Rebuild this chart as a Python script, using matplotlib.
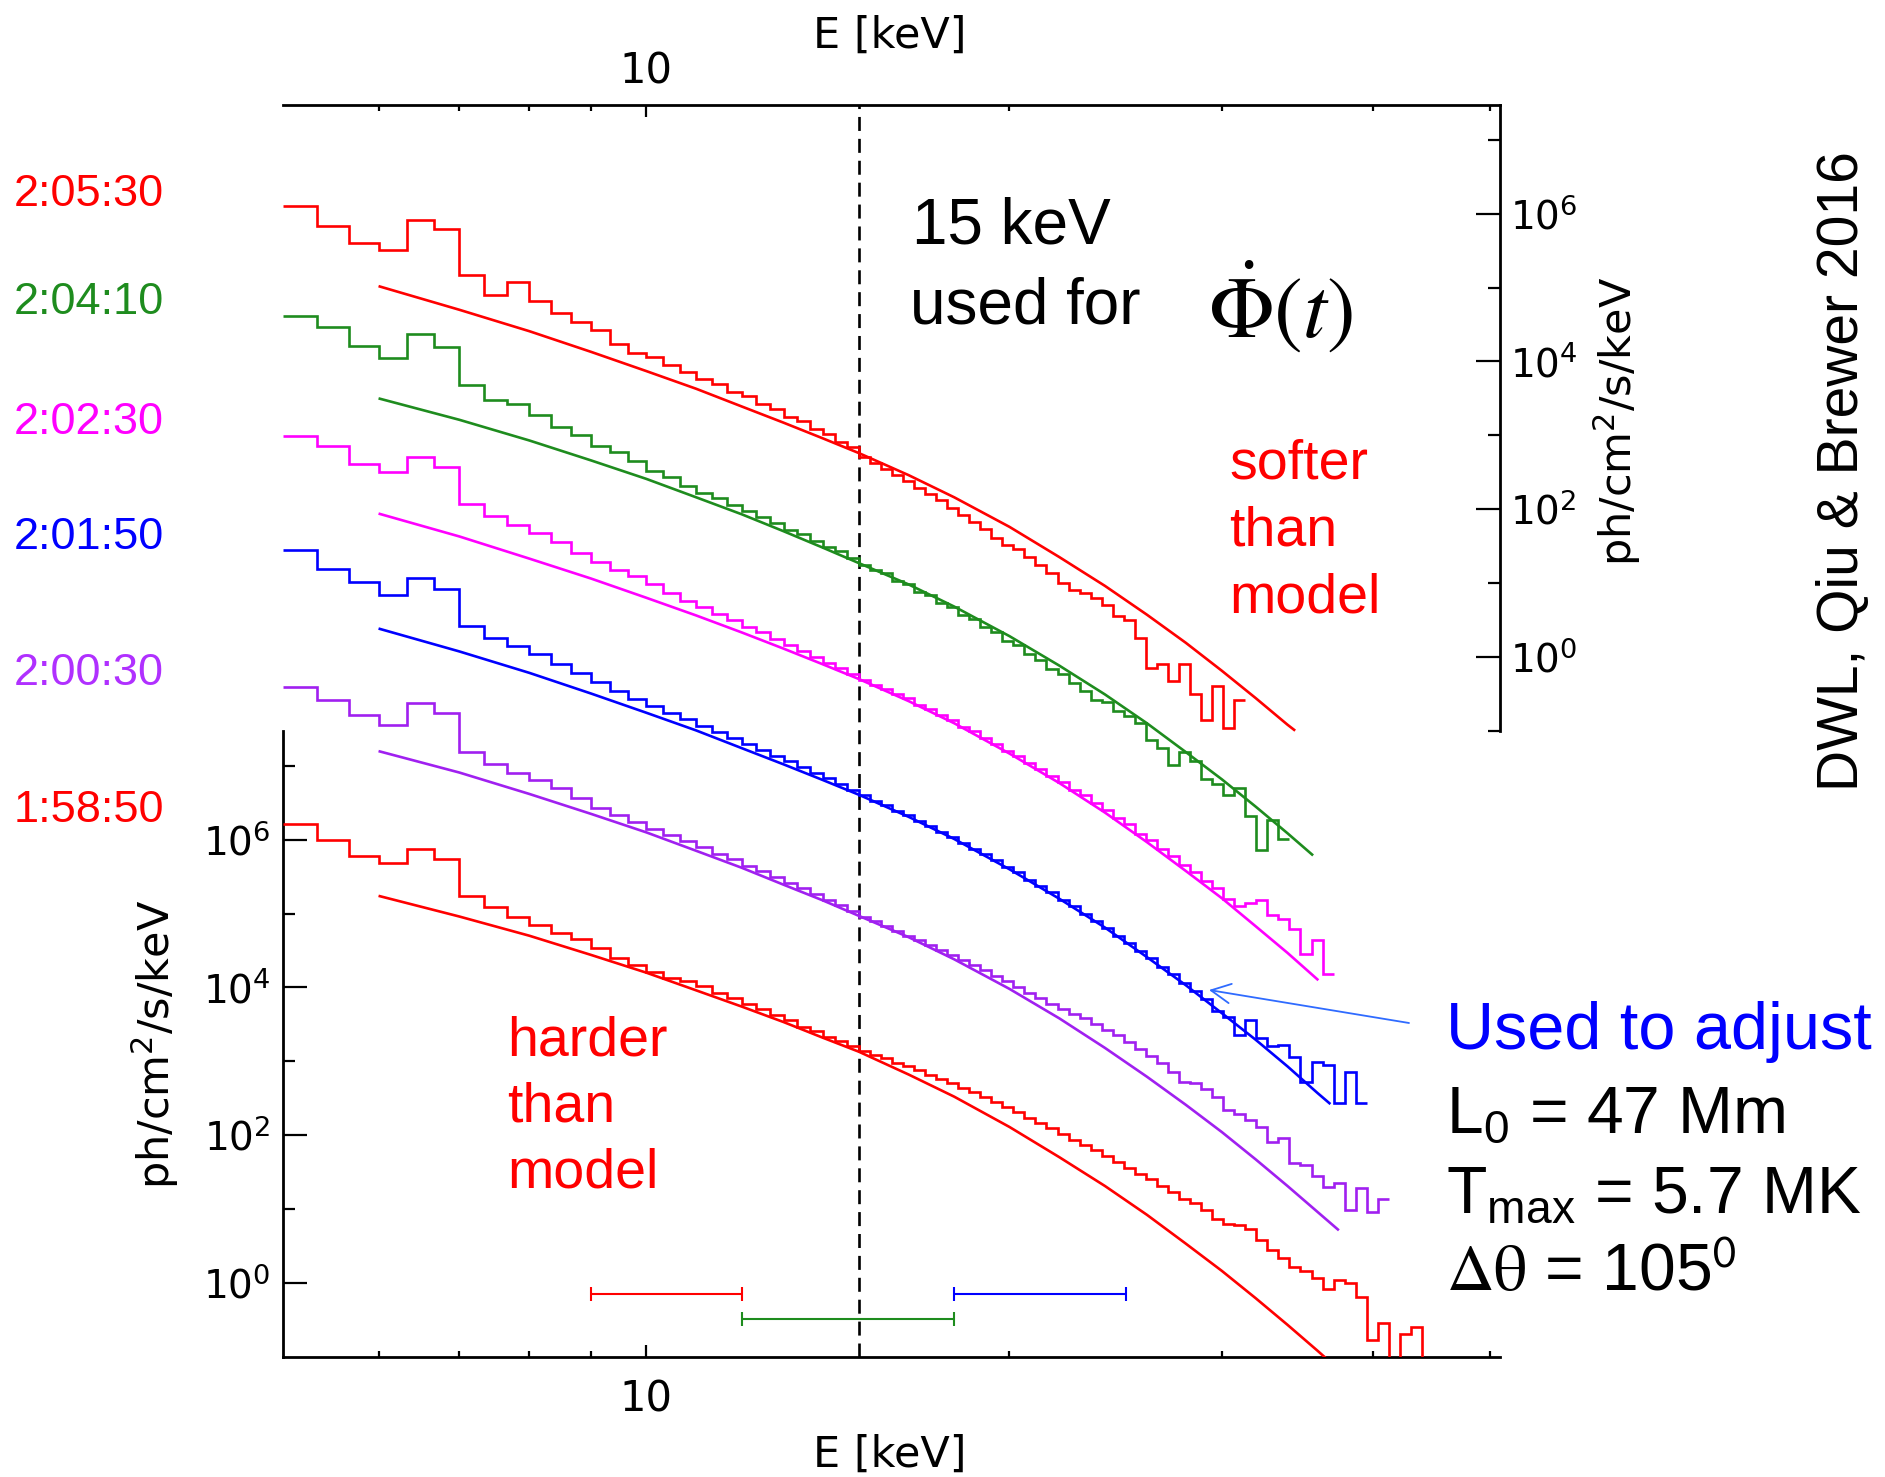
import numpy as np
import matplotlib
matplotlib.use("Agg")
import matplotlib.pyplot as plt
from matplotlib.ticker import FixedLocator, FixedFormatter, NullFormatter

# ---------------- energy binning ----------------
# 1/3 keV bins from 5 to 15 keV, then logarithmic bins (2.13 % wide)
lin_edges = 5.0 + np.arange(31) / 3.0
log_edges = 15.0 * 1.0213 ** np.arange(1, 60)
bin_edges = np.concatenate([lin_edges, log_edges])

# ---------------- observed spectra: log10 flux per bin (offset for display) ----------------
# upper three spectra are read on the right-hand axis
spec_2_05_30 = [6.10, 5.84, 5.61, 5.51, 5.91, 5.79, 5.17, 4.90, 5.07, 4.82, 4.65, 4.54, 4.43, 4.24, 4.12, 4.06, 3.95,
                3.86, 3.76, 3.70, 3.59, 3.53, 3.42, 3.35, 3.25, 3.20, 3.09, 3.02, 2.91, 2.84,
                2.71, 2.63, 2.55, 2.46, 2.38, 2.29, 2.20, 2.12, 2.02, 1.92, 1.83, 1.73, 1.61, 1.51, 1.46, 1.35,
                1.24, 1.14, 1.00, 0.90,
                0.86, 0.80, 0.70, 0.55, 0.50, 0.26, -0.15, -0.10, -0.33, -0.10, -0.51, -0.85, -0.39, -0.97, -0.58]
spec_2_04_10 = [4.61, 4.46, 4.21, 4.04, 4.37, 4.19, 3.68, 3.48, 3.43, 3.28, 3.11, 3.01, 2.86, 2.77, 2.65, 2.51, 2.43,
                2.31, 2.22, 2.15, 2.05, 1.97, 1.90, 1.81, 1.72, 1.66, 1.57, 1.49, 1.43, 1.34,
                1.25, 1.17, 1.13, 1.03, 0.98, 0.88, 0.84, 0.73, 0.67, 0.57, 0.51, 0.40, 0.34, 0.22, 0.16, 0.04,
                -0.04, -0.16, -0.23, -0.35,
                -0.46, -0.59, -0.61, -0.73, -0.80, -0.90, -1.12, -1.24, -1.46, -1.29, -1.41, -1.65, -1.72, -1.87,
                -1.77, -2.16, -2.62, -2.21, -2.47]
spec_2_02_30 = [2.99, 2.85, 2.61, 2.50, 2.70, 2.57, 2.07, 1.91, 1.79, 1.67, 1.55, 1.41, 1.28, 1.18, 1.10, 0.99, 0.87,
                0.76, 0.67, 0.58, 0.50, 0.41, 0.33, 0.24, 0.16, 0.08, 0.00, -0.08, -0.15, -0.23,
                -0.31, -0.38, -0.43, -0.51, -0.56, -0.65, -0.71, -0.79, -0.86, -0.95, -1.01, -1.10, -1.18, -1.27,
                -1.34, -1.44, -1.52, -1.62, -1.70, -1.80, -1.87, -1.98, -2.07, -2.18, -2.27, -2.40, -2.48, -2.60,
                -2.70, -2.82, -2.92, -3.04, -3.13, -3.28, -3.38, -3.34, -3.30, -3.49, -3.55, -3.68, -4.02, -3.84,
                -4.30]
# lower three spectra are read on the left-hand axis
spec_2_01_50 = [9.92, 9.67, 9.49, 9.32, 9.54, 9.40, 8.90, 8.73, 8.63, 8.51, 8.38, 8.26, 8.14, 8.02, 7.91, 7.81, 7.71,
                7.63, 7.54, 7.46, 7.38, 7.29, 7.22, 7.13, 7.06, 6.98, 6.90, 6.83, 6.75, 6.67,
                6.60, 6.53, 6.47, 6.39, 6.34, 6.25, 6.19, 6.11, 6.04, 5.96, 5.88, 5.80, 5.72, 5.63, 5.56, 5.46,
                5.37, 5.29, 5.19, 5.10, 5.00, 4.90, 4.81, 4.70, 4.60, 4.49, 4.40, 4.28, 4.18, 4.06, 3.95, 3.84,
                3.68, 3.60, 3.36, 3.56, 3.31, 3.20, 3.22, 3.06, 2.72, 2.99, 2.95, 2.43, 2.86, 2.43]
spec_2_00_30 = [8.07, 7.89, 7.69, 7.55, 7.85, 7.71, 7.19, 7.03, 6.91, 6.81, 6.70, 6.56, 6.43, 6.34, 6.24, 6.15, 6.06,
                5.98, 5.90, 5.81, 5.74, 5.65, 5.58, 5.49, 5.42, 5.34, 5.26, 5.19, 5.11, 5.03,
                4.95, 4.90, 4.83, 4.77, 4.70, 4.64, 4.57, 4.51, 4.44, 4.37, 4.30, 4.23, 4.16, 4.08, 4.01, 3.93,
                3.86, 3.78, 3.71, 3.64,
                3.58, 3.50, 3.42, 3.35, 3.26, 3.17, 3.07, 2.97, 2.85, 2.72, 2.70, 2.63, 2.52, 2.34, 2.29, 2.20,
                2.11, 1.91, 1.96, 1.62, 1.59, 1.44, 1.30, 1.35, 0.98, 1.28, 0.96, 1.14]
spec_1_58_50 = [6.21, 6.00, 5.78, 5.69, 5.87, 5.74, 5.24, 5.09, 4.96, 4.84, 4.73, 4.65, 4.53, 4.40, 4.31, 4.21, 4.13,
                4.08, 4.02, 3.92, 3.86, 3.77, 3.71, 3.62, 3.56, 3.47, 3.41, 3.33, 3.28, 3.20,
                3.14, 3.09, 3.04, 2.98, 2.93, 2.88, 2.82, 2.76, 2.70, 2.64, 2.58, 2.52, 2.45, 2.38, 2.31, 2.23,
                2.16, 2.09, 2.01, 1.94, 1.87,
                1.80, 1.72, 1.64, 1.55, 1.47, 1.40, 1.31, 1.23, 1.13, 1.08, 0.99, 0.86, 0.80, 0.78, 0.73, 0.58,
                0.45, 0.33, 0.22, 0.16, 0.06, -0.08, 0.04, -0.01, -0.19, -0.78, -0.55, -1.30, -0.70, -0.60, -1.30]

# ---------------- model spectra: energy (keV) and log10 flux ----------------
e_mod_base = [6, 7, 8, 9, 10, 11, 12, 13, 14, 15, 16.5, 18, 20, 22, 24, 26, 28, 30, 32, 34]
e_mod_2_05_30 = e_mod_base + [34.5]
mod_2_05_30 = [5.02, 4.70, 4.41, 4.13, 3.87, 3.63, 3.39, 3.17, 2.96, 2.76, 2.46, 2.16, 1.76, 1.35, 0.96, 0.57,
               0.19, -0.19, -0.56, -0.92, -1.00]
e_mod_2_04_10 = e_mod_base + [35.7]
mod_2_04_10 = [3.50, 3.21, 2.93, 2.66, 2.41, 2.16, 1.93, 1.70, 1.48, 1.27, 0.98, 0.68, 0.28, -0.12, -0.51, -0.90,
               -1.29, -1.66, -2.03, -2.39, -2.69]
e_mod_2_02_30 = e_mod_base + [36.06]
mod_2_02_30 = [1.94, 1.63, 1.33, 1.06, 0.80, 0.56, 0.33, 0.11, -0.10, -0.30, -0.60, -0.90, -1.31, -1.71, -2.11,
               -2.51, -2.90, -3.27, -3.65, -4.01, -4.38]
e_mod_2_01_50 = e_mod_base + [36, 36.9]
mod_2_01_50 = [8.86, 8.55, 8.26, 7.98, 7.72, 7.48, 7.24, 7.02, 6.81, 6.61, 6.31, 6.01, 5.60, 5.20, 4.81, 4.41,
               4.03, 3.65, 3.29, 2.93, 2.57, 2.42]
e_mod_2_00_30 = e_mod_base + [36, 37.5]
mod_2_00_30 = [7.20, 6.91, 6.62, 6.35, 6.10, 5.85, 5.62, 5.39, 5.18, 4.97, 4.68, 4.38, 3.98, 3.58, 3.18, 2.79,
               2.41, 2.04, 1.67, 1.31, 0.96, 0.71]
e_mod_1_58_50 = e_mod_base + [36, 38]
mod_1_58_50 = [5.24, 4.96, 4.70, 4.44, 4.20, 3.96, 3.74, 3.53, 3.32, 3.13, 2.82, 2.52, 2.11, 1.70, 1.31, 0.92,
               0.53, 0.16, -0.21, -0.57, -0.92, -1.26]

# ---------------- energy ranges marked at the bottom ----------------
range_lo = [9.0, 12.0, 18.0]
range_hi = [12.0, 18.0, 25.0]
range_flux = [0.70, 0.325, 0.70]

time_labels = ["2:05:30", "2:04:10", "2:02:30", "2:01:50", "2:00:30", "1:58:50"]

RED = "#ff0000"
GREEN = "#1e8c1e"
MAGENTA = "#ff00ff"
BLUE = "#0000ff"
PURPLE = "#a020f0"
PURPLE_LABEL = "#b030ff"
ARROW_BLUE = "#2f6bff"

SANS = ["Liberation Sans", "DejaVu Sans"]
NARROW = ["Liberation Sans Narrow", "DejaVu Sans"]

plt.rcParams["font.family"] = ["DejaVu Sans"]

W, H = 1885, 1477
fig = plt.figure(figsize=(W / 100, H / 100), dpi=100)


def fxp(px):
    return px / W


def fyp(py):
    return 1.0 - py / H


# axes box in pixels
L, R, T, B = 283.0, 1500.0, 104.7, 1356.6
ax = fig.add_axes([fxp(L), fyp(B), (R - L) / W, (B - T) / H])
ax.set_xscale("log")
ax.set_yscale("log")
ax.set_xlim(5, 51)

panel_top = 3e7
panel_bot = 0.1
span = panel_top / panel_bot
ax.set_ylim(panel_bot, panel_bot * span ** 2)

ax2 = ax.twinx()
ax2.set_yscale("log")
ax2.set_ylim(panel_bot / span, panel_top)

# spines: left axis for lower half, right axis for upper half
for s in ax.spines.values():
    s.set_linewidth(2.0)
ax.spines["right"].set_visible(False)
ax.spines["left"].set_bounds(panel_bot, panel_top)
for name in ["left", "top", "bottom"]:
    ax2.spines[name].set_visible(False)
ax2.spines["right"].set_linewidth(2.0)
ax2.spines["right"].set_bounds(panel_bot, panel_top)

# y ticks
major_y = [1e0, 1e2, 1e4, 1e6]
minor_y = [1e1, 1e3, 1e5, 1e7]
labels_y = [r"$\mathregular{10^{%d}}$" % int(np.log10(v)) for v in major_y]
for a, side, pad in [(ax, "left", 9), (ax2, "right", 7)]:
    a.yaxis.set_major_locator(FixedLocator(major_y))
    a.yaxis.set_major_formatter(FixedFormatter(labels_y))
    a.yaxis.set_minor_locator(FixedLocator(minor_y + ([1e-1] if side == "right" else [])))
    a.yaxis.set_minor_formatter(NullFormatter())
    a.tick_params(axis="y", which="major", direction="in", length=17, width=1.6,
                  labelsize=28, pad=pad, left=(side == "left"), right=(side == "right"),
                  labelleft=(side == "left"), labelright=(side == "right"))
    a.tick_params(axis="y", which="minor", direction="in", length=8.6, width=1.6,
                  left=(side == "left"), right=(side == "right"))

# x ticks
ax.xaxis.set_major_locator(FixedLocator([10]))
ax.xaxis.set_minor_locator(FixedLocator([6, 7, 8, 9, 20, 30, 40, 50]))
ax.xaxis.set_major_formatter(NullFormatter())
ax.xaxis.set_minor_formatter(NullFormatter())
ax.tick_params(axis="x", which="major", direction="in", length=8.5, width=1.6,
               top=True, bottom=True, labelbottom=False, labeltop=False)
ax.tick_params(axis="x", which="minor", direction="in", length=4.3, width=1.6,
               top=True, bottom=True, labelbottom=False, labeltop=False)

# 15 keV reference line
ax.axvline(15, color="black", lw=1.9, linestyle=(0, (5.3, 3.0)), zorder=1)

# spectra and models
upper = [(spec_2_05_30, e_mod_2_05_30, mod_2_05_30, RED),
         (spec_2_04_10, e_mod_2_04_10, mod_2_04_10, GREEN),
         (spec_2_02_30, e_mod_2_02_30, mod_2_02_30, MAGENTA)]
lower = [(spec_2_01_50, e_mod_2_01_50, mod_2_01_50, BLUE),
         (spec_2_00_30, e_mod_2_00_30, mod_2_00_30, PURPLE),
         (spec_1_58_50, e_mod_1_58_50, mod_1_58_50, RED)]

for a, group in [(ax2, upper), (ax, lower)]:
    for spec, e_mod, mod, col in group:
        vals = 10.0 ** np.asarray(spec)
        edges = bin_edges[:len(vals) + 1]
        a.stairs(vals, edges, baseline=None, color=col, lw=1.9, zorder=3)
        a.plot(e_mod, 10.0 ** np.asarray(mod), color=col, lw=1.9, zorder=3,
               solid_capstyle="butt")

# energy ranges
for lo, hi, yv, col in zip(range_lo, range_hi, range_flux, [RED, GREEN, BLUE]):
    c = np.sqrt(lo * hi)
    ax.errorbar([c], [yv], xerr=[[c - lo], [hi - c]], fmt="none", ecolor=col,
                elinewidth=1.5, capsize=5, capthick=1.5, zorder=3)

# x tick labels and axis titles (top and bottom)
x10 = L + (R - L) * np.log10(10 / 5) / np.log10(51 / 5)
fig.text(fxp(x10), fyp(1400), "10", ha="center", va="center", fontsize=30, family=NARROW)
fig.text(fxp(x10), fyp(72), "10", ha="center", va="center", fontsize=30, family=NARROW)
fig.text(fxp(890), fyp(1455), "E [keV]", ha="center", va="center", fontsize=31, family=NARROW)
fig.text(fxp(890), fyp(36), "E [keV]", ha="center", va="center", fontsize=31, family=NARROW)

# y axis titles
ylab = r"ph/cm$^{\mathregular{2}}$/s/keV"
fig.text(fxp(155), fyp(1044), ylab, rotation=90, ha="center", va="center", fontsize=31)
fig.text(fxp(1617), fyp(421), ylab, rotation=90, ha="center", va="center", fontsize=31)

# time stamps
time_y = [194, 303, 423, 537, 673, 811]
time_cols = [RED, GREEN, MAGENTA, BLUE, PURPLE_LABEL, RED]
for lab, yy, col in zip(time_labels, time_y, time_cols):
    fig.text(fxp(14), fyp(yy), lab, ha="left", va="center", fontsize=32.5, color=col, family=SANS)

# annotations
fig.text(fxp(912), fyp(243), "15 keV", ha="left", va="baseline", fontsize=46, family=SANS)
fig.text(fxp(910), fyp(323), "used for", ha="left", va="baseline", fontsize=46, family=SANS)
fig.text(fxp(1280), fyp(307), r"$\dot{\Phi}(t)$", ha="center", va="center", fontsize=62,
         math_fontfamily="stix")

for txt, yb in zip(["softer", "than", "model"], [478.5, 545.7, 612.5]):
    fig.text(fxp(1229), fyp(yb), txt, ha="left", va="baseline", fontsize=40, color=RED, family=SANS)
for txt, yb in zip(["harder", "than", "model"], [1055.7, 1121.8, 1187.9]):
    fig.text(fxp(507), fyp(yb), txt, ha="left", va="baseline", fontsize=40, color=RED, family=SANS)

fig.text(fxp(1446), fyp(1032), "Used to adjust", ha="left", va="center", fontsize=48,
         color=BLUE, family=SANS)
fig.text(fxp(1446), fyp(1116), r"L$_{\mathregular{0}}$ = 47 Mm", ha="left", va="center",
         fontsize=47.5, family=SANS)
fig.text(fxp(1446), fyp(1196), r"T$_{\mathregular{max}}$ = 5.7 MK", ha="left", va="center",
         fontsize=47.5, family=SANS)
fig.text(fxp(1446), fyp(1274), r"$\mathrm{\Delta\theta}$ = 105$^{\mathsf{0}}$", ha="left",
         va="center", fontsize=47.5, family=SANS, math_fontfamily="stix")

fig.text(fxp(1843), fyp(471), "DWL, Qiu & Brewer 2016", rotation=90, ha="center", va="center",
         fontsize=41, family=SANS)

# arrow pointing at the 2:01:50 spectrum
ax.annotate("", xy=(1209, H - 990), xytext=(1409, H - 1023),
            xycoords="figure pixels", textcoords="figure pixels",
            arrowprops=dict(arrowstyle="->,head_length=0.7,head_width=0.35",
                            mutation_scale=20, color=ARROW_BLUE, lw=1.3,
                            shrinkA=0, shrinkB=0))

fig.savefig("out.png", dpi=100)
